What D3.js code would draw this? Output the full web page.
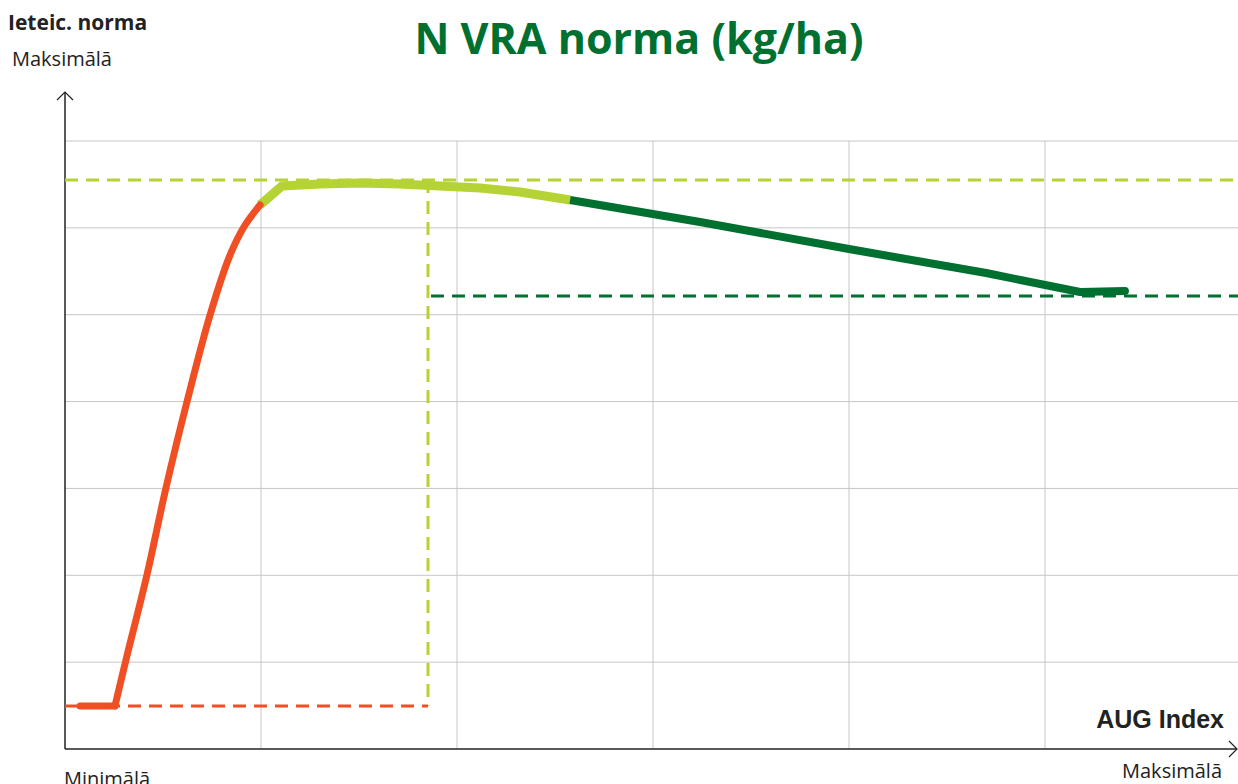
<!DOCTYPE html>
<html><head><meta charset="utf-8">
<script src="https://cdn.jsdelivr.net/npm/d3@7"></script>
<style>body{margin:0;background:#fff}svg{display:block}</style>
</head><body>
<svg id="c" width="1238" height="784"></svg>
<script>
// Data (x: AUG index grid units, y: rate grid units)
const xGridTicks = [1, 2, 3, 4, 5];
const yGridTicks = [1, 2, 3, 4, 5, 6, 7];
const redFlat = [[0.077, 0.495], [0.255, 0.495]];
const redRise = [[0.255, 0.495], [0.311, 1.025], [0.418, 2.003], [0.515, 3.005], [0.622, 3.995], [0.740, 4.997], [0.842, 5.687], [0.918, 6.03], [0.995, 6.263]];
const lightGreen = [[0.995, 6.263], [1.107, 6.482], [1.301, 6.505], [1.505, 6.516], [1.709, 6.505], [1.913, 6.482], [2.117, 6.459], [2.321, 6.413], [2.577, 6.321]];
const darkGreen = [[2.577, 6.321], [3.240, 6.068], [4.000, 5.756], [4.700, 5.480], [5.179, 5.261], [5.408, 5.273]];
const maxRateY = 6.551;   // light green dashed line
const thresholdX = 1.852; // light green vertical dashed
const minRateY = 0.495;   // red dashed
const lowRateY = 5.215;   // dark green dashed

const svg = d3.select("#c");
const x = d3.scaleLinear().domain([0, 6]).range([65, 1241]);
const y = d3.scaleLinear().domain([0, 7]).range([749, 141]);

const red = "#f04e23", lg = "#b5d334", dg = "#007030";

// grid
svg.append("g").selectAll("line").data(yGridTicks).join("line")
  .attr("x1", x(0)).attr("x2", 1238).attr("y1", d => y(d)).attr("y2", d => y(d))
  .attr("stroke", "#c6c6c6").attr("stroke-width", 1);
svg.append("g").selectAll("line").data(xGridTicks).join("line")
  .attr("x1", d => x(d)).attr("x2", d => x(d)).attr("y1", y(7)).attr("y2", y(0))
  .attr("stroke", "#c6c6c6").attr("stroke-width", 1);

// axes
svg.append("line").attr("x1", x(0)).attr("x2", x(0)).attr("y1", 92).attr("y2", y(0)).attr("stroke", "#222").attr("stroke-width", 1.5);
svg.append("line").attr("x1", x(0)).attr("x2", 1237).attr("y1", y(0)).attr("y2", y(0)).attr("stroke", "#222").attr("stroke-width", 1.5);
svg.append("path").attr("d", `M${x(0)-8},${100} L${x(0)},${92} L${x(0)+8},${100}`).attr("fill", "none").attr("stroke", "#222").attr("stroke-width", 1.2);
svg.append("path").attr("d", `M1229,${y(0)-8} L1237,${y(0)} L1229,${y(0)+8}`).attr("fill", "none").attr("stroke", "#222").attr("stroke-width", 1.2);

// dashed reference lines
const dash = "13,8";
svg.append("line").attr("x1", x(0)).attr("x2", 1238).attr("y1", y(maxRateY)).attr("y2", y(maxRateY))
  .attr("stroke", lg).attr("stroke-width", 3).attr("stroke-dasharray", dash);
svg.append("line").attr("x1", x(thresholdX)).attr("x2", x(thresholdX)).attr("y1", y(maxRateY)).attr("y2", y(minRateY))
  .attr("stroke", lg).attr("stroke-width", 3).attr("stroke-dasharray", dash);
svg.append("line").attr("x1", x(0)).attr("x2", x(thresholdX)).attr("y1", y(minRateY)).attr("y2", y(minRateY))
  .attr("stroke", red).attr("stroke-width", 3).attr("stroke-dasharray", dash);
svg.append("line").attr("x1", x(thresholdX) + 3).attr("x2", 1238).attr("y1", y(lowRateY)).attr("y2", y(lowRateY))
  .attr("stroke", dg).attr("stroke-width", 3).attr("stroke-dasharray", dash);

// curves
const lineL = d3.line().x(d => x(d[0])).y(d => y(d[1]));
const lineC = d3.line().x(d => x(d[0])).y(d => y(d[1])).curve(d3.curveCatmullRom);
svg.append("path").attr("d", lineL(darkGreen)).attr("fill", "none").attr("stroke", dg).attr("stroke-width", 8).attr("stroke-linecap", "round").attr("stroke-linejoin", "round");
svg.append("path").attr("d", lineL(lightGreen)).attr("fill", "none").attr("stroke", lg).attr("stroke-width", 9).attr("stroke-linejoin", "round");
svg.append("path").attr("d", lineL(redFlat)).attr("fill", "none").attr("stroke", red).attr("stroke-width", 7).attr("stroke-linecap", "round");
svg.append("path").attr("d", lineC(redRise)).attr("fill", "none").attr("stroke", red).attr("stroke-width", 7).attr("stroke-linecap", "round").attr("stroke-linejoin", "round");

// texts
svg.append("text").attr("x", 639).attr("y", 54).attr("text-anchor", "middle")
  .attr("font-family", "Open Sans").attr("font-weight", "bold").attr("font-size", 43).attr("fill", dg).text("N VRA norma (kg/ha)");
svg.append("text").attr("x", 8).attr("y", 30).attr("font-family", "Open Sans").attr("font-weight", "bold").attr("font-size", 21).attr("fill", "#222").text("Ieteic. norma");
svg.append("text").attr("x", 12).attr("y", 66).attr("font-family", "Open Sans").attr("font-size", 20).attr("fill", "#222").text("Maksimālā");
svg.append("text").attr("x", 64).attr("y", 786).attr("font-family", "Open Sans").attr("font-size", 20).attr("fill", "#222").text("Minimālā");
svg.append("text").attr("x", 1222).attr("y", 778).attr("text-anchor", "end").attr("font-family", "Open Sans").attr("font-size", 20).attr("fill", "#222").text("Maksimālā");
svg.append("text").attr("x", 1224).attr("y", 728).attr("text-anchor", "end").attr("font-family", "Liberation Sans").attr("font-weight", "bold").attr("font-size", 25).attr("fill", "#222").text("AUG Index");
</script>
</body></html>
